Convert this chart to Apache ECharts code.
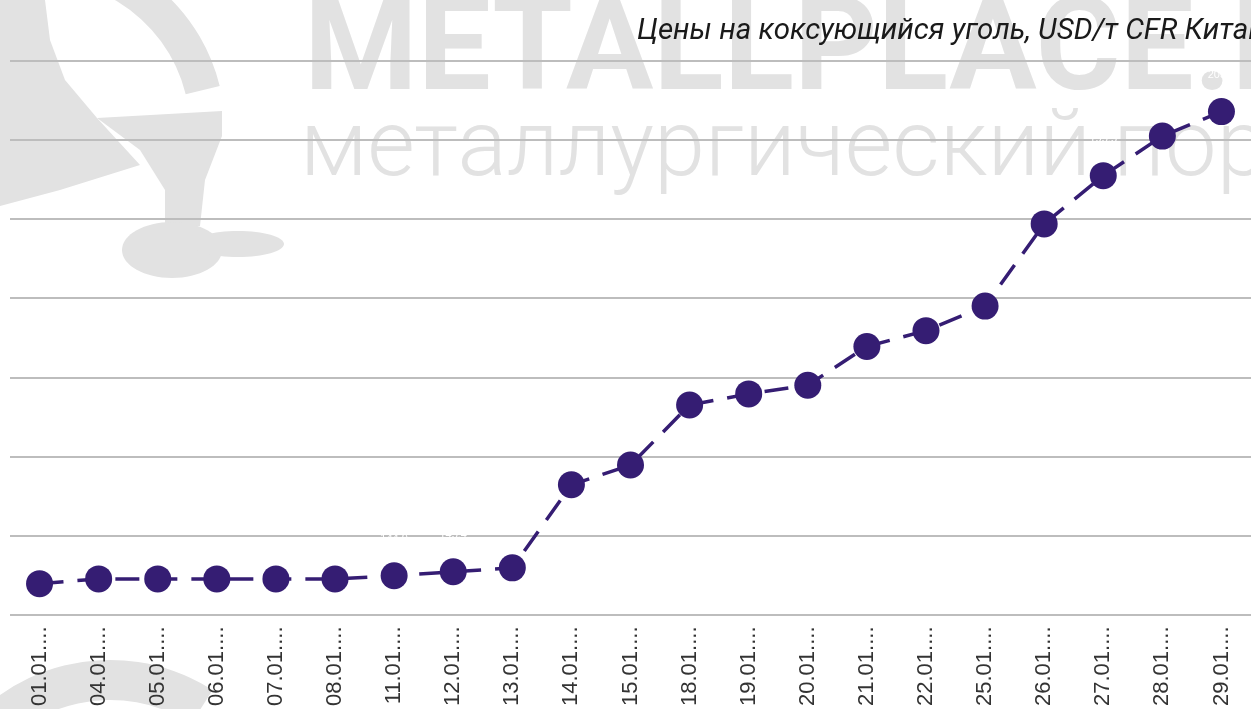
<!DOCTYPE html>
<html>
<head>
<meta charset="utf-8">
<script src="https://cdn.jsdelivr.net/npm/echarts@6/dist/echarts.min.js"></script>
<style>
  html, body { margin: 0; padding: 0; background: #fff; }
  #chart { width: 1251px; height: 709px; }
</style>
</head>
<body>
<div id="chart"></div>
<script>
  const dates = [
    '01.01.2021', '04.01.2021', '05.01.2021', '06.01.2021', '07.01.2021',
    '08.01.2021', '11.01.2021', '12.01.2021', '13.01.2021', '14.01.2021',
    '15.01.2021', '18.01.2021', '19.01.2021', '20.01.2021', '21.01.2021',
    '22.01.2021', '25.01.2021', '26.01.2021', '27.01.2021', '28.01.2021',
    '29.01.2021'
  ];
  const prices = [
    143.9, 144.5, 144.5, 144.5, 144.5, 144.5, 144.9, 145.4, 145.9, 156.4,
    158.9, 166.5, 167.9, 169.0, 173.9, 175.9, 179.0, 189.4, 195.5, 200.5,
    203.6
  ];
  const titleText = 'Цены на коксующийся уголь, USD/т CFR Китай';

  const wm = '#e2e2e2';
  const chart = echarts.init(document.getElementById('chart'));

  const option = {
    backgroundColor: '#fff',
    animation: false,
    title: {
      text: titleText,
      left: 632,
      top: 12,
      textStyle: {
        fontFamily: 'Roboto',
        fontStyle: 'italic',
        fontWeight: 'normal',
        fontSize: 29.5,
        color: '#1a1a1a'
      }
    },
    // watermark (logo + site name), kept behind the grid
    graphic: [
      { type: 'sector', z: -10, silent: true,
        shape: { cx: 40, cy: 130, r0: 150, r: 185, startAngle: -2.1, endAngle: -0.24, clockwise: true },
        style: { fill: wm } },
      { type: 'polygon', z: -10, silent: true,
        shape: { points: [[0, 0], [45, 0], [50, 40], [65, 80], [97, 118], [140, 165], [60, 190], [0, 206]] },
        style: { fill: wm } },
      { type: 'polygon', z: -10, silent: true,
        shape: { points: [[97, 118], [222, 111], [222, 136], [205, 180], [200, 226], [165, 226], [165, 190], [140, 150]] },
        style: { fill: wm } },
      { type: 'ellipse', z: -10, silent: true,
        shape: { cx: 172, cy: 250, rx: 50, ry: 28 }, style: { fill: wm } },
      { type: 'ellipse', z: -10, silent: true,
        shape: { cx: 238, cy: 244, rx: 46, ry: 13 }, style: { fill: wm } },
      { type: 'sector', z: -10, silent: true,
        shape: { cx: 110, cy: 850, r0: 150, r: 190, startAngle: -2.6, endAngle: -1.0, clockwise: true },
        style: { fill: wm } },
      { type: 'text', z: -10, silent: true, x: 304, y: -9,
        style: { text: 'METALLPLACE.RU', fill: wm, font: 'bold 130px Roboto' } },
      { type: 'text', z: -10, silent: true, x: 300, y: 106,
        style: { text: 'металлургический портал', fill: wm, font: '300 92px Roboto' } }
    ],
    grid: {
      left: 10,
      top: 61,
      width: 1249,
      height: 555,
      containLabel: false
    },
    xAxis: {
      type: 'category',
      data: dates,
      axisLine: { show: false },
      axisTick: { show: false },
      axisLabel: {
        rotate: 90,
        margin: 12,
        fontFamily: 'Liberation Sans',
        fontSize: 22,
        color: '#333333',
        width: 84,
        overflow: 'truncate',
        ellipsis: '...'
      }
    },
    yAxis: {
      type: 'value',
      min: 140,
      max: 210,
      interval: 10,
      axisLabel: { show: false },
      axisLine: { show: false },
      axisTick: { show: false },
      splitLine: { lineStyle: { color: '#bdbdbd', width: 2 } }
    },
    series: [
      {
        type: 'line',
        data: prices,
        symbol: 'circle',
        symbolSize: 27,
        itemStyle: { color: '#351d73' },
        lineStyle: { color: '#351d73', width: 3.5, type: [24, 14] },
        label: {
          show: true,
          position: 'top',
          distance: 18,
          color: '#ffffff',
          fontSize: 11
        }
      }
    ]
  };

  chart.setOption(option);
  window.addEventListener('resize', () => chart.resize());
</script>
</body>
</html>
